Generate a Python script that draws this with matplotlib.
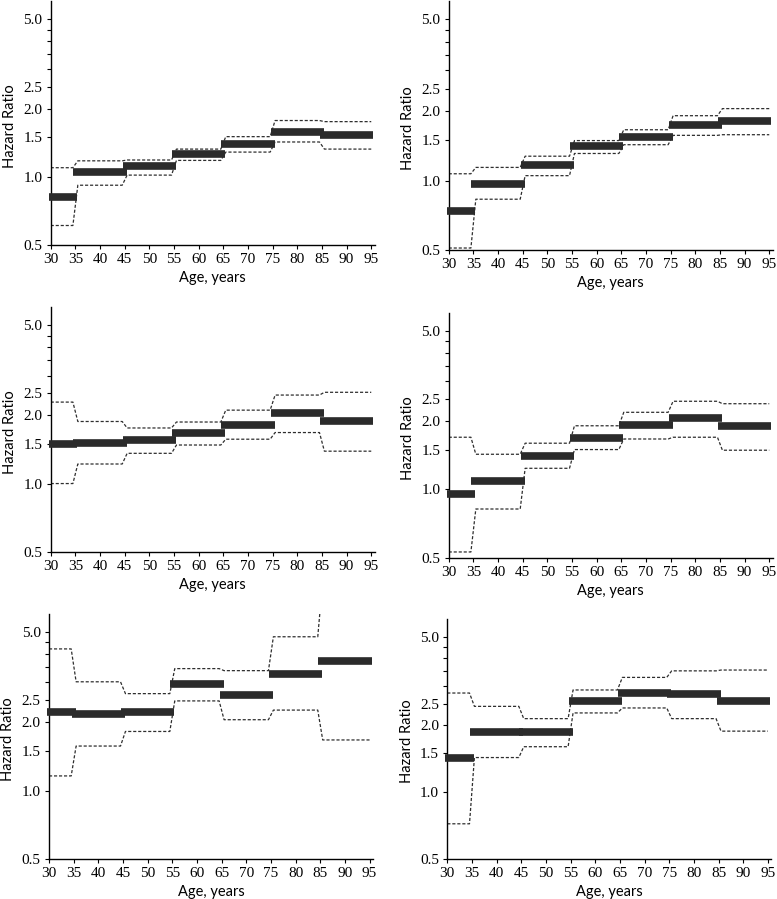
import matplotlib
matplotlib.use("Agg")
import matplotlib.pyplot as plt
from matplotlib.ticker import FixedLocator, NullFormatter

# ---------------- data ----------------
age_starts = [30, 35, 45, 55, 65, 75, 85]
age_ends = [35, 45, 55, 65, 75, 85, 95]

x_ticks = [30, 35, 40, 45, 50, 55, 60, 65, 70, 75, 80, 85, 90, 95]
y_ticks = [0.5, 1.0, 1.5, 2.0, 2.5, 5.0]
y_tick_labels = ["0.5", "1.0", "1.5", "2.0", "2.5", "5.0"]
y_minor_ticks = [3.0, 3.5, 4.0, 4.5]

hr_1 = [0.82, 1.05, 1.115, 1.26, 1.40, 1.59, 1.54]
lo_1 = [0.61, 0.92, 1.02, 1.185, 1.29, 1.43, 1.33]
hi_1 = [1.10, 1.18, 1.19, 1.33, 1.51, 1.78, 1.76]

hr_2 = [0.735, 0.97, 1.17, 1.41, 1.55, 1.74, 1.81]
lo_2 = [0.51, 0.83, 1.05, 1.31, 1.43, 1.57, 1.58]
hi_2 = [1.07, 1.14, 1.275, 1.49, 1.66, 1.91, 2.05]

hr_3 = [1.50, 1.51, 1.56, 1.67, 1.82, 2.04, 1.89]
lo_3 = [1.00, 1.22, 1.36, 1.48, 1.57, 1.68, 1.39]
hi_3 = [2.29, 1.88, 1.76, 1.87, 2.11, 2.46, 2.53]

hr_4 = [0.957, 1.085, 1.41, 1.69, 1.93, 2.06, 1.90]
lo_4 = [0.53, 0.82, 1.24, 1.50, 1.67, 1.70, 1.49]
hi_4 = [1.70, 1.43, 1.60, 1.91, 2.19, 2.45, 2.39]

hr_5 = [2.21, 2.17, 2.21, 2.93, 2.64, 3.27, 3.70]
lo_5 = [1.16, 1.57, 1.82, 2.48, 2.05, 2.26, 1.67]
hi_5 = [4.20, 3.01, 2.67, 3.44, 3.37, 4.75, 8.4]

hr_6 = [1.42, 1.87, 1.86, 2.56, 2.79, 2.75, 2.58]
lo_6 = [0.72, 1.43, 1.60, 2.27, 2.39, 2.14, 1.88]
hi_6 = [2.79, 2.43, 2.14, 2.88, 3.28, 3.51, 3.54]

panels = [(hr_1, lo_1, hi_1), (hr_2, lo_2, hi_2), (hr_3, lo_3, hi_3),
          (hr_4, lo_4, hi_4), (hr_5, lo_5, hi_5), (hr_6, lo_6, hi_6)]

# ---------------- layout (pixels) ----------------
W, H = 777, 899
# left, bottom(px from top), width, height
boxes = [
    (50.7, 245.0, 324, 243.6),
    (448.7, 250.0, 324, 249.0),
    (50.7, 551.7, 324, 244.3),
    (448.7, 557.7, 324, 244.6),
    (49.0, 859.0, 324, 245.3),
    (447.3, 859.0, 324, 239.9),
]

tick_font = {"family": "Liberation Serif", "size": 11}
label_font = {"family": "Lato", "size": 10.5}

ramp = 0.5
overhang = 0.4
bar_color = "#2b2b2b"
ci_color = "#2e2e2e"


def ci_path(vals):
    xs, ys = [], []
    n = len(vals)
    for i, (s, e, v) in enumerate(zip(age_starts, age_ends, vals)):
        x0 = s if i == 0 else s + ramp
        x1 = e if i == n - 1 else e - ramp
        xs += [x0, x1]
        ys += [v, v]
    return xs, ys


fig = plt.figure(figsize=(W / 100, H / 100), dpi=100)

for (hr, lo, hi), (l, b, w, h) in zip(panels, boxes):
    ax = fig.add_axes([l / W, 1 - b / H, w / W, h / H])
    ax.set_yscale("log")
    ax.set_xlim(30, 95.7)
    ax.set_ylim(0.5, 6.0)

    for vals in (lo, hi):
        xs, ys = ci_path(vals)
        ax.plot(xs, ys, color=ci_color, lw=0.9, linestyle=(0, (2.5, 1.5)), zorder=2)

    ax.hlines(hr, [s - overhang for s in age_starts], [e + overhang for e in age_ends],
              colors=bar_color, linewidth=5.5, zorder=3, clip_on=False)

    for sp in ("top", "right"):
        ax.spines[sp].set_visible(False)
    for sp in ("left", "bottom"):
        ax.spines[sp].set_linewidth(1.0)
        ax.spines[sp].set_color("black")

    ax.yaxis.set_major_locator(FixedLocator(y_ticks))
    ax.set_yticklabels(y_tick_labels, fontdict=tick_font)
    ax.yaxis.set_minor_locator(FixedLocator(y_minor_ticks))
    ax.yaxis.set_minor_formatter(NullFormatter())
    ax.set_xticks(x_ticks)
    ax.set_xticklabels([str(t) for t in x_ticks], fontdict=tick_font)

    ax.tick_params(axis="both", which="both", direction="out", length=3,
                   width=0.8, color="black", pad=3)

    ax.set_ylabel("Hazard Ratio", fontdict=label_font, va="center")
    ax.yaxis.set_label_coords(-0.125, 0.49)
    ax.set_xlabel("Age, years", fontdict=label_font, va="center")
    ax.xaxis.set_label_coords(0.5, -33 / h)

fig.savefig("out.png", dpi=100)
